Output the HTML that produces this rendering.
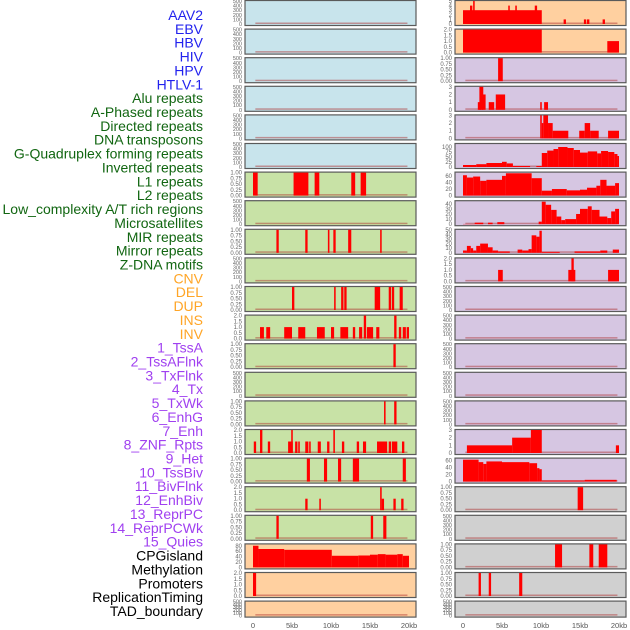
<!DOCTYPE html>
<html><head><meta charset="utf-8">
<style>
html,body{margin:0;padding:0;background:#fff;}
svg{display:block;font-family:"Liberation Sans",sans-serif;}
</style></head>
<body>
<svg id="chart" width="630" height="630" viewBox="0 0 630 630" xmlns="http://www.w3.org/2000/svg"></svg>
<script>
const trackLabels = ["AAV2","EBV","HBV","HIV","HPV","HTLV-1","Alu repeats","A-Phased repeats","Directed repeats","DNA transposons","G-Quadruplex forming repeats","Inverted repeats","L1 repeats","L2 repeats","Low_complexity A/T rich regions","Microsatellites","MIR repeats","Mirror repeats","Z-DNA motifs","CNV","DEL","DUP","INS","INV","1_TssA","2_TssAFlnk","3_TxFlnk","4_Tx","5_TxWk","6_EnhG","7_Enh","8_ZNF_Rpts","9_Het","10_TssBiv","11_BivFlnk","12_EnhBiv","13_ReprPC","14_ReprPCWk","15_Quies","CPGisland","Methylation","Promoters","ReplicationTiming","TAD_boundary"];
const labelGroups = ["v","v","v","v","v","v","r","r","r","r","r","r","r","r","r","r","r","r","r","s","s","s","s","s","c","c","c","c","c","c","c","c","c","c","c","c","c","c","c","o","o","o","o","o"];
const leftBg = ["b","b","b","b","b","b","g","g","g","g","g","g","g","g","g","g","g","g","g","p","p","p"];
const rightBg = ["p","p","u","u","u","u","u","u","u","u","u","u","u","u","u","u","u","x","x","x","x","x"];
const leftYmax = [500,500,500,500,500,500,1,500,1,500,1,2,1,500,1,2,1,2,1,85,2,500];
const rightYmax = [5,2,1,3,3,115,70,45,50,2,500,500,500,500,500,3,65,1,500,1,1,500];
const xTickKb = [0,5,10,15,20];
const xTickText = ["0","5kb","10kb","15kb","20kb"];

const L = [
 [],[],[],[],[],[],
 [[0,0.6,1],[5.2,7.1,1],[7.9,8.5,1],[12.6,13.1,1],[13.8,14.5,1]],
 [],
 [[3.0,3.3,1],[6.7,7.0,1],[9.6,9.8,1],[10.3,10.6,1],[12.2,12.6,1],[16.3,16.5,1]],
 [],
 [[5.0,5.3,1],[10.4,10.6,1],[11.3,11.6,1],[11.7,12.0,1],[15.6,16.3,1],[17.4,17.7,1],[17.8,18.1,1],[18.8,19.2,1]],
 [[0.9,1.4,1],[1.7,2.2,1],[4.0,5.0,1],[5.8,6.7,1],[8.2,9.2,1],[10.0,10.4,1],[11.2,12.2,1],[12.8,13.1,1],[13.6,14.0,1],[14.2,14.5,2],[14.6,15.4,1],[15.8,16.2,1],[18.1,18.4,2],[18.7,19.0,1],[19.2,19.6,1],[19.7,20,1]],
 [[18.0,18.3,1]],
 [],
 [[16.8,17.0,1],[18.1,18.4,1]],
 [[0.1,0.4,1],[0.9,1.2,2],[1.9,2.2,1],[4.5,5.1,1],[4.9,5.1,2],[5.4,5.7,1],[5.8,6.0,1],[6.7,7.1,1],[7.2,7.4,1],[8.3,8.7,1],[9.5,9.8,1],[10.3,10.5,2],[11.4,11.7,1],[13.3,13.6,1],[14.1,14.5,1],[15.9,17.2,1],[17.4,17.7,1],[17.8,18.5,1],[19.1,19.4,1]],
 [[6.9,7.3,1],[9.1,9.5,1],[10.9,11.3,1],[12.8,13.6,1],[19.2,19.6,1]],
 [[6.7,7.0,1],[8.5,8.7,1],[16.3,16.5,2],[16.5,16.8,1],[18.0,18.3,1],[19.0,19.3,1]],
 [[3.0,3.3,1],[15.1,15.4,1],[16.7,17.1,1]],
 [[0,0.7,80],[0.7,4.0,68],[4.0,10.1,65],[10.1,13.5,43],[13.5,15.0,44],[15.0,16.0,47],[16.0,17.0,49],[17.0,18.5,47],[18.5,19.2,49],[19.2,20,43]],
 [[0,0.4,2]],
 []
];
const R = [
 [[0,10.1,3],[0.9,1.2,4],[1.3,1.5,5],[5.8,6.0,4],[6.7,6.9,4],[9.2,9.5,4],[12.9,13.2,1],[15.5,15.8,1],[15.9,16.2,1],[17.9,18.2,1]],
 [[0,10.1,2],[18.5,20,1]],
 [[4.5,5.1,1]],
 [[1.9,2.3,1],[2.1,2.6,3],[2.4,2.9,2],[3.3,4.0,1],[4.2,5.4,2],[9.9,10.1,1],[10.4,10.9,1]],
 [[9.9,10.1,3],[10.1,10.3,2],[10.3,10.9,3],[10.9,11.5,2],[11.5,13.5,1],[14.9,15.6,1],[15.6,16.3,2],[16.3,17.4,1],[18.6,20,1]],
 [[0,1.7,10],[1.7,3.0,14],[3.0,5.0,20],[5.0,5.6,26],[5.6,6.4,18],[6.4,8.6,5],[9.4,10.1,5],[10.1,10.8,70],[10.8,11.6,82],[11.6,12.2,90],[12.2,13.4,100],[13.4,14.2,95],[14.2,15.0,85],[15.0,16.0,72],[16.0,17.2,78],[17.2,17.7,68],[17.7,18.6,80],[18.6,19.4,75],[19.4,19.8,65],[19.8,20,55]],
 [[0,0.5,62],[0.5,1.3,55],[1.3,2.2,58],[2.2,3.0,45],[3.0,5.0,48],[5.0,5.5,60],[5.5,8.8,68],[8.8,10.1,53],[10.1,11.4,15],[11.4,13.3,20],[13.3,15.0,16],[15.0,15.9,18],[15.9,17.1,24],[17.1,17.6,30],[17.6,18.4,48],[18.4,19.5,30],[19.5,20,38]],
 [[0,1.5,0.5],[1.5,2.6,3],[3.2,3.8,3],[4.4,5.3,4],[9.7,10.1,5],[10.1,10.6,44],[10.6,11.3,38],[11.3,12.0,28],[12.0,12.6,15],[12.6,13.1,8],[13.1,14.5,10],[14.5,15.0,20],[15.0,16.0,30],[16.0,16.5,35],[16.5,17.5,28],[17.5,18.5,15],[18.5,19.0,12],[19.0,19.5,25],[19.5,20,30]],
 [[0,0.5,5],[0.5,1.0,15],[1.0,1.3,10],[1.3,1.7,5],[1.7,2.2,15],[2.2,3.2,20],[3.2,3.8,12],[3.8,4.5,5],[4.5,6.0,3],[7.0,7.6,7],[7.6,8.4,5],[8.4,8.8,8],[8.8,9.4,38],[9.4,9.8,35],[9.8,10.1,48],[10.1,12.4,2],[14.3,17.6,3],[17.6,18.5,5],[19.2,20,7]],
 [[4.5,5.1,1],[13.5,14.4,1],[13.9,14.2,2],[18.6,20,1]],
 [],[],[],[],[],
 [[0.5,6.3,1],[6.3,8.7,2],[8.7,10.1,3],[19.6,20,1]],
 [[0,2.0,62],[2.0,2.6,55],[2.6,3.0,50],[3.0,5.0,57],[5.0,8.5,55],[8.5,9.5,52],[9.5,9.8,38],[9.8,10.1,35],[10.1,15.6,3],[15.6,19.7,5]],
 [[14.7,15.4,1]],
 [],
 [[11.8,12.7,1],[16.2,16.7,1],[17.4,18.5,1]],
 [[2.0,2.3,1],[3.3,3.6,1],[7.2,7.6,1]],
 []
];

const NS = "http://www.w3.org/2000/svg";
const svg = document.getElementById("chart");
function mk(tag, attrs, parent) {
  const e = document.createElementNS(NS, tag);
  for (const k in attrs) e.setAttribute(k, attrs[k]);
  (parent || svg).appendChild(e);
  return e;
}
const bgColors = {b:"#c8e4ec", g:"#c8e2a6", p:"#ffd0a0", u:"#d6c6e2", x:"#d0d0d0"};
const labelColors = {v:"#2222ee", r:"#116611", s:"#ffa526", c:"#a040f0", o:"#000000"};
const pitch = 28.6;
function rowTop(i){ return 0.5 + pitch*i; }
function rowH(i){ return i === 21 ? 16 : 25; }
function xL(kb){ return 253 + kb*7.8; }
function xR(kb){ return 463 + kb*7.8; }

function ticksFor(ymax){
  if (ymax===500) return [[0,"0"],[100,"100"],[200,"200"],[300,"300"],[400,"400"],[500,"500"]];
  if (ymax===1) return [[0,"0.00"],[0.25,"0.25"],[0.5,"0.50"],[0.75,"0.75"],[1,"1.00"]];
  if (ymax===2) return [[0,"0.0"],[0.5,"0.5"],[1,"1.0"],[1.5,"1.5"],[2,"2.0"]];
  if (ymax===3) return [[0,"0"],[1,"1"],[2,"2"],[3,"3"]];
  if (ymax===5) return [[0,"0"],[1,"1"],[2,"2"],[3,"3"],[4,"4"],[5,"5"]];
  if (ymax===85) return [[0,"0"],[20,"20"],[40,"40"],[60,"60"],[80,"80"]];
  if (ymax===115) return [[0,"0"],[25,"25"],[50,"50"],[75,"75"],[100,"100"]];
  if (ymax===70||ymax===65) return [[0,"0"],[20,"20"],[40,"40"],[60,"60"]];
  if (ymax===45) return [[0,"0"],[10,"10"],[20,"20"],[30,"30"],[40,"40"]];
  if (ymax===50) return [[0,"0"],[10,"10"],[20,"20"],[30,"30"],[40,"40"],[50,"50"]];
  return [[0,"0"],[ymax,String(ymax)]];
}

function drawPanel(side, i, bgKey, ymax, segs){
  const px = side==="left" ? 245 : 455;
  const xf = side==="left" ? xL : xR;
  const top = rowTop(i), h = rowH(i);
  const g = mk("g", {});
  
  
  const bg = mk("rect", {x:px, y:top, width:171, height:h, fill:bgColors[bgKey], stroke:"#5a5a5a", "stroke-width":1.2}, g);
  
  
  const base = top + h - 1.5;
  const plotH = h - 2;
  function y(v){ return base - (v/ymax)*plotH; }
  const bl = mk("rect", {x:xf(0.3), y:base-1.5, width:xf(19.8)-xf(0.3), height:1.5, fill:"rgba(170,40,40,0.45)"}, g);
  
  
  segs.forEach(function(s){
    const r = mk("rect", {x:xf(s[0]), y:y(s[2]), width:Math.max(1.2, xf(s[1])-xf(s[0])), height:base-y(s[2]), fill:"#ff0000"}, g);
    
    
  });
  const ticks = ticksFor(ymax);
  ticks.forEach(function(t){
    const tx = mk("text", {x:px-3, y:y(t[0])+2, "text-anchor":"end", "font-size":(ymax===500?"5.5":"6"), fill:"#666"}, g);
    tx.textContent = t[1];
    
    
  });
}

for (let i=0;i<22;i++){
  drawPanel("left", i, leftBg[i], leftYmax[i], L[i]);
  drawPanel("right", i, rightBg[i], rightYmax[i], R[i]);
}

trackLabels.forEach(function(lab, k){
  const t = mk("text", {x:203, y:20 + k*13.86, "text-anchor":"end", "font-size":"14", fill:labelColors[labelGroups[k]]});
  t.textContent = lab;
  
  
});

xTickKb.forEach(function(kb, k){
  const a = mk("text", {x:xL(kb), y:628, "text-anchor":"middle", "font-size":"7.5", fill:"#555"});
  a.textContent = xTickText[k];
  
  
  const b = mk("text", {x:xR(kb), y:628, "text-anchor":"middle", "font-size":"7.5", fill:"#555"});
  b.textContent = xTickText[k];
  
  
});
</script>
</body></html>
